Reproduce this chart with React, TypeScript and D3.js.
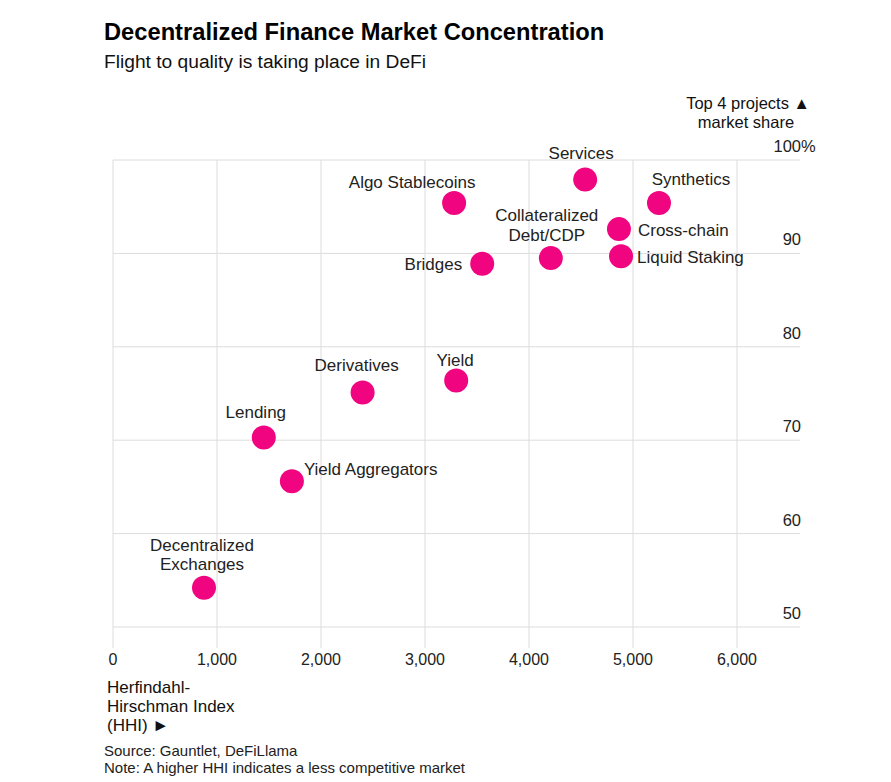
import React from "react";
import * as d3 from "d3";

const categories = [
  "Algo Stablecoins",
  "Services",
  "Synthetics",
  "Cross-chain",
  "Liquid Staking",
  "Collateralized Debt/CDP",
  "Bridges",
  "Derivatives",
  "Yield",
  "Lending",
  "Yield Aggregators",
  "Decentralized Exchanges",
];
const hhiValues = [3280, 4540, 5250, 4865, 4885, 4210, 3550, 2400, 3300, 1450, 1720, 875];
const shareValues = [95.4, 97.9, 95.4, 92.6, 89.7, 89.5, 88.9, 75.1, 76.4, 70.3, 65.6, 54.2];
const xTicks = [0, 1000, 2000, 3000, 4000, 5000, 6000];
const yTicks = [50, 60, 70, 80, 90, 100];

// label layout: lines, anchor, dx, dy (first line baseline)
const labelLayout: { lines: string[]; anchor: string; dx: number; dy: number }[] = [
  { lines: ["Algo Stablecoins"], anchor: "middle", dx: -42, dy: -15 },
  { lines: ["Services"], anchor: "middle", dx: -4, dy: -21 },
  { lines: ["Synthetics"], anchor: "middle", dx: 32, dy: -18 },
  { lines: ["Cross-chain"], anchor: "start", dx: 19, dy: 7 },
  { lines: ["Liquid Staking"], anchor: "start", dx: 16, dy: 7 },
  { lines: ["Collateralized", "Debt/CDP"], anchor: "middle", dx: -4, dy: -37 },
  { lines: ["Bridges"], anchor: "end", dx: -20, dy: 6 },
  { lines: ["Derivatives"], anchor: "middle", dx: -6, dy: -22 },
  { lines: ["Yield"], anchor: "middle", dx: -1, dy: -14 },
  { lines: ["Lending"], anchor: "middle", dx: -8, dy: -19 },
  { lines: ["Yield Aggregators"], anchor: "start", dx: 12, dy: -6 },
  { lines: ["Decentralized", "Exchanges"], anchor: "middle", dx: -2, dy: -37 },
];

const FONT = "'Liberation Sans', Arial, Helvetica, sans-serif";
const PINK = "#f0047f";
const GRID = "#dcdcdc";

export default function App() {
  const W = 891;
  const H = 782;
  const x = d3.scaleLinear().domain([0, 6000]).range([113, 737]);
  const y = d3.scaleLinear().domain([50, 100]).range([627, 160]);
  const gridRight = 800;
  const fmt = d3.format(",");

  return (
    <svg
      width={W}
      height={H}
      style={{ position: "absolute", left: 0, top: 0, background: "#fff" }}
      fontFamily={FONT}
    >
      <rect width={W} height={H} fill="#fff" />
      <text x={104} y={40} fontSize={23.7} fontWeight="bold" fill="#000">
        Decentralized Finance Market Concentration
      </text>
      <text x={104} y={68} fontSize={19.2} fill="#111">
        Flight to quality is taking place in DeFi
      </text>

      {/* horizontal grid */}
      {yTicks.map((t) => (
        <line key={"h" + t} x1={x(0)} x2={gridRight} y1={y(t)} y2={y(t)} stroke={GRID} strokeWidth={1} />
      ))}
      {/* vertical grid */}
      {xTicks.map((t) => (
        <line key={"v" + t} x1={x(t)} x2={x(t)} y1={y(100)} y2={648} stroke={GRID} strokeWidth={1} />
      ))}

      {/* y tick labels */}
      {yTicks.map((t) => (
        <text key={"yl" + t} x={801} y={y(t) - 8} fontSize={16.5} textAnchor="end" fill="#222">
          {t}
        </text>
      ))}
      <text x={801} y={y(100) - 8} fontSize={16.5} textAnchor="start" fill="#222">%</text>

      <text x={748} y={109} fontSize={16.5} textAnchor="middle" fill="#111">
        Top 4 projects ▲
      </text>
      <text x={746} y={128} fontSize={16.5} textAnchor="middle" fill="#111">
        market share
      </text>

      {/* x tick labels */}
      {xTicks.map((t) => (
        <text key={"xl" + t} x={x(t)} y={665} fontSize={16} textAnchor="middle" fill="#222">
          {fmt(t)}
        </text>
      ))}
      <text x={107} y={693} fontSize={17} fill="#111">Herfindahl-</text>
      <text x={107} y={712} fontSize={17} fill="#111">Hirschman Index</text>
      <text x={107} y={731} fontSize={17} fill="#111">(HHI) ►</text>

      {/* dots */}
      {categories.map((c, i) => (
        <circle key={"c" + c} cx={x(hhiValues[i])} cy={y(shareValues[i])} r={12} fill={PINK} />
      ))}
      {/* labels */}
      {categories.map((c, i) => {
        const L = labelLayout[i];
        const cx = x(hhiValues[i]);
        const cy = y(shareValues[i]);
        return (
          <text key={"t" + c} x={cx + L.dx} y={cy + L.dy} fontSize={17} textAnchor={L.anchor} fill="#222">
            {L.lines.map((ln, j) => (
              <tspan key={j} x={cx + L.dx} dy={j === 0 ? 0 : 19.5}>
                {ln}
              </tspan>
            ))}
          </text>
        );
      })}

      <text x={104} y={756} fontSize={15} fill="#222">Source: Gauntlet, DeFiLlama</text>
      <text x={104} y={773} fontSize={15} fill="#222">Note: A higher HHI indicates a less competitive market</text>
    </svg>
  );
}
